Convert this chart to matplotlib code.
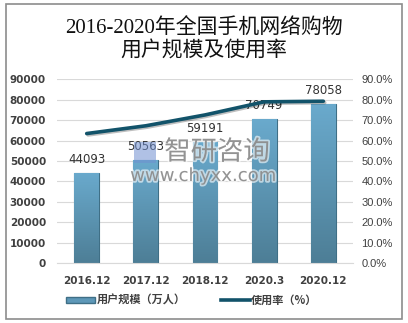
import numpy as np
import matplotlib.pyplot as plt
import matplotlib.patheffects as pe
from matplotlib.lines import Line2D
from matplotlib.patches import Rectangle
from matplotlib.colors import LinearSegmentedColormap

plt.rcParams['font.family'] = ['DejaVu Sans', 'Noto Sans CJK SC']

# 数据
periods = ["2016.12", "2017.12", "2018.12", "2020.3", "2020.12"]
users = [44093, 50563, 59191, 70749, 78058]          # 用户规模（万人）
usage_rate = [63.4, 67.2, 72.5, 78.9, 79.2]          # 使用率（%）

fig = plt.figure(figsize=(4.08, 3.23), dpi=100)
ax = fig.add_axes([0.14, 0.185, 0.725, 0.57])
ax2 = ax.twinx()

x = np.arange(len(periods))
bar_w = 0.42

# 柱状图，渐变填充
grad = np.linspace(0, 1, 256).reshape(-1, 1)
cmap = LinearSegmentedColormap.from_list("bar", ["#4d7e96", "#6aaacd"])
bars = ax.bar(x, users, width=bar_w, color="#5e98b8", edgecolor="#3f6f86",
              linewidth=0.8, zorder=2)
for b in bars:
    x0, y0 = b.get_x(), b.get_y()
    w, h = b.get_width(), b.get_height()
    im = ax.imshow(grad, cmap=cmap, aspect="auto", origin="lower",
                   extent=[x0, x0 + w, y0, y0 + h], zorder=2)
    im.set_clip_path(b)

for xi, v in zip(x, users):
    ax.text(xi, v + 3300, str(v), ha="center", va="bottom", fontsize=8.5,
            color="#333333", zorder=5)

ax.set_xlim(-0.5, len(periods) - 0.5)
ax.set_ylim(0, 90000)
ax.set_yticks(range(0, 90001, 10000))
ax.set_xticks(x)
ax.set_xticklabels(periods)
ax.grid(axis="y", color="#d9d9d9", linewidth=0.8, zorder=0)
ax.set_axisbelow(True)

# 使用率折线
ax2.plot(x, usage_rate, color="#12536a", linewidth=2.6, solid_capstyle="round",
         zorder=4, path_effects=[pe.SimpleLineShadow(offset=(1, -1), alpha=0.25),
                                 pe.Normal()])
ax2.set_ylim(0, 90)
ax2.set_yticks(range(0, 91, 10))
ax2.set_yticklabels([f"{t:.1f}%" for t in range(0, 91, 10)])

for a in (ax, ax2):
    for s in a.spines.values():
        s.set_visible(False)
    a.tick_params(length=0, labelsize=7.5, colors="#404040")
ax.spines["bottom"].set_visible(True)
ax.spines["bottom"].set_color("#d9d9d9")
ax.tick_params(axis="y", pad=8)
ax2.tick_params(axis="y", pad=6)
ax.tick_params(axis="x", pad=9)
for lbl in ax.get_yticklabels() + ax.get_xticklabels():
    lbl.set_fontweight("bold")
for lbl in ax2.get_yticklabels():
    lbl.set_fontfamily(["Liberation Sans", "DejaVu Sans"])
    lbl.set_fontsize(8)

# 标题
fig.text(0.5, 0.878, "2016-2020年全国手机网络购物\n用户规模及使用率",
         ha="center", va="center", fontsize=15, linespacing=1.25,
         family=["Liberation Serif", "Noto Sans CJK SC"], color="#111111")

# 图例
handles = [Rectangle((0, 0), 1, 1, facecolor="#5e98b8", edgecolor="#3f6f86"),
           Line2D([0], [0], color="#12536a", linewidth=2.6)]
leg = fig.legend(handles, ["用户规模（万人）", "使用率（%）"], loc="center",
                 bbox_to_anchor=(0.47, 0.07), ncol=2, frameon=False,
                 fontsize=8, handlelength=2.6, handleheight=0.45,
                 handletextpad=0.1, columnspacing=3.2)
for t in leg.get_texts():
    t.set_fontweight("bold")
    t.set_color("#404040")
    t.set_family(["Noto Sans CJK SC", "DejaVu Sans"])

# 水印
glow = [pe.withStroke(linewidth=2.5, foreground="white", alpha=0.6)]
fig.patches.append(Rectangle((134 / 408, 1 - 163 / 323), 22 / 408, 21 / 323,
                             transform=fig.transFigure, facecolor="#6f8fd0",
                             alpha=0.55, edgecolor="none", zorder=10))
fig.text(217 / 408, 1 - 152 / 323, "智研咨询", ha="center", va="center",
         fontsize=19, color="#808080", alpha=0.8, family=["Noto Sans CJK SC"],
         path_effects=glow, zorder=10)
fig.text(203 / 408, 1 - 176 / 323, "www.chyxx.com", ha="center", va="center",
         fontsize=13, color="#808080", alpha=0.8, family=["DejaVu Sans"],
         path_effects=glow, zorder=10)

# 外框
fig.patches.append(Rectangle((6 / 408, 4 / 323), 396 / 408, 315 / 323,
                             transform=fig.transFigure, fill=False,
                             edgecolor="#8c8c8c", linewidth=1.2))

plt.savefig("out.png", dpi=100)
